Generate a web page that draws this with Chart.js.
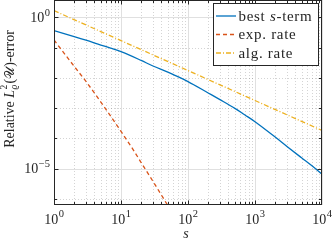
<!DOCTYPE html>
<html>
<head>
<meta charset="utf-8">
<script src="https://cdn.jsdelivr.net/npm/chart.js@4.4.1/dist/chart.umd.min.js"></script>
<style>
  html, body { margin: 0; padding: 0; background: #fff; }
  canvas { display: block; }
</style>
</head>
<body>
<canvas id="errChart" width="332" height="243"></canvas>
<script>
// values (s on x, relative error on y)
const sBest = [1, 2, 3, 5, 7, 10, 20, 30, 50, 70, 100, 200, 300, 500, 700, 1000, 2000, 3000, 5000, 7000, 10000];
const errBest = [0.363, 0.232, 0.176, 0.121, 0.0955, 0.0730, 0.0375, 0.0246, 0.0155, 0.011, 0.0075,
  3.16e-3, 1.9e-3, 9.8e-4, 6.0e-4, 3.55e-4, 1.1e-4, 5.4e-5, 2.24e-5, 1.26e-5, 6.6e-6];

const sExp = [1, 2, 3, 5, 7, 10, 15, 20, 30, 50];
const errExp = [0.178, 0.024, 7.6e-3, 1.58e-3, 5.4e-4, 1.7e-4, 4.4e-5, 1.58e-5, 3.8e-6, 6.0e-7];

const sAlg = [1, 10, 100, 1000, 10000];
const errAlg = [1.66, 0.17, 0.0174, 1.78e-3, 1.82e-4];

const seriesLabels = ['best $s$-term', 'exp. rate', 'alg. rate'];

const xTickExps = [0, 1, 2, 3, 4];
const yTickExps = [0, -5];
const yMinorExps = [-1, -2, -3, -4, -6];

const serif = '"Liberation Serif", "DejaVu Serif", serif';
const axisColor = '#262626';

function toPoints(xs, ys) {
  return xs.map((x, i) => ({ x: x, y: ys[i] }));
}

// "10" with a raised exponent, like MATLAB's log tick labels
function powLabel(ctx, exp, x, y, align) {
  const sup = String(exp).replace('-', '\u2212');
  ctx.font = '14px ' + serif;
  const wb = ctx.measureText('10').width;
  ctx.font = '10.5px ' + serif;
  const ws = ctx.measureText(sup).width;
  const total = wb + 0.5 + ws;
  const x0 = align === 'center' ? x - total / 2 : x - total;
  ctx.textAlign = 'left';
  ctx.textBaseline = 'alphabetic';
  ctx.font = '14px ' + serif;
  ctx.fillText('10', x0, y);
  ctx.font = '10.5px ' + serif;
  ctx.fillText(sup, x0 + wb + 0.5, y - 6.3);
}

// text with $...$ parts set in italic
function richText(ctx, str, x, y, size) {
  const parts = str.split('$');
  parts.forEach((p, i) => {
    ctx.font = (i % 2 ? 'italic ' : '') + size + 'px ' + serif;
    ctx.fillText(p, x, y);
    x += ctx.measureText(p).width;
  });
}

function drawYTitle(ctx) {
  const pieces = [
    ['Relative ', '14px ', 0],
    ['L', 'italic 14px ', 0],
    ['(', '14px ', 6.5],
    ['\uD835\uDCB0', '13px ', 0],
    [')', '14px ', 0],
    ['-error', '14px ', 0]
  ];
  let total = 0;
  pieces.forEach(p => { ctx.font = p[1] + serif; total += p[2] + ctx.measureText(p[0]).width; });
  ctx.save();
  ctx.translate(13.5, 89 + total / 2);
  ctx.rotate(-Math.PI / 2);
  ctx.fillStyle = axisColor;
  ctx.textAlign = 'left';
  ctx.textBaseline = 'alphabetic';
  let x = 0;
  pieces.forEach(p => {
    x += p[2];
    ctx.font = p[1] + serif;
    ctx.fillText(p[0], x, 0);
    x += ctx.measureText(p[0]).width;
    if (p[0] === 'L') {
      ctx.font = '9.5px ' + serif;
      ctx.fillText('2', x + 0.3, -6.5);
      ctx.font = 'italic 9.5px ' + serif;
      ctx.fillText('\u03F1', x + 0.3, 3.5);
    }
  });
  ctx.restore();
}

const matlabAxes = {
  id: 'matlabAxes',
  beforeDatasetsDraw(chart) {
    const ctx = chart.ctx, a = chart.chartArea;
    const xs = chart.scales.x, ys = chart.scales.y;
    ctx.save();
    ctx.lineWidth = 1;
    // minor grid, dotted
    ctx.strokeStyle = 'rgba(38,38,38,0.2)';
    ctx.setLineDash([1, 2]);
    ctx.beginPath();
    for (let d = 0; d < 4; d++) {
      for (let m = 2; m <= 9; m++) {
        const px = Math.round(xs.getPixelForValue(m * Math.pow(10, d))) + 0.5;
        ctx.moveTo(px, a.top); ctx.lineTo(px, a.bottom);
      }
    }
    yMinorExps.forEach(e => {
      const py = Math.round(ys.getPixelForValue(Math.pow(10, e))) + 0.5;
      ctx.moveTo(a.left, py); ctx.lineTo(a.right, py);
    });
    ctx.stroke();
    // major grid, solid
    ctx.setLineDash([]);
    ctx.strokeStyle = '#e0e0e0';
    ctx.beginPath();
    xTickExps.forEach(e => {
      const px = Math.round(xs.getPixelForValue(Math.pow(10, e))) + 0.5;
      ctx.moveTo(px, a.top); ctx.lineTo(px, a.bottom);
    });
    yTickExps.forEach(e => {
      const py = Math.round(ys.getPixelForValue(Math.pow(10, e))) + 0.5;
      ctx.moveTo(a.left, py); ctx.lineTo(a.right, py);
    });
    ctx.stroke();
    ctx.restore();
  },
  afterDatasetsDraw(chart) {
    const ctx = chart.ctx, a = chart.chartArea;
    const xs = chart.scales.x, ys = chart.scales.y;
    const L = Math.round(a.left) + 0.5, R = Math.round(a.right) - 0.5;
    const T = Math.round(a.top) + 0.5, B = Math.round(a.bottom) - 0.5;
    ctx.save();
    ctx.strokeStyle = axisColor;
    ctx.fillStyle = axisColor;
    ctx.lineWidth = 1;

    // inward tick marks on all four sides
    ctx.beginPath();
    for (let d = 0; d < 4; d++) {
      for (let m = 1; m <= 9; m++) {
        const px = Math.round(xs.getPixelForValue(m * Math.pow(10, d))) + 0.5;
        const len = m === 1 ? 4 : 2.5;
        ctx.moveTo(px, B); ctx.lineTo(px, B - len);
        ctx.moveTo(px, T); ctx.lineTo(px, T + len);
      }
    }
    yTickExps.concat(yMinorExps).forEach(e => {
      const py = Math.round(ys.getPixelForValue(Math.pow(10, e))) + 0.5;
      const len = yTickExps.includes(e) ? 4 : 2.5;
      ctx.moveTo(L, py); ctx.lineTo(L + len, py);
      ctx.moveTo(R, py); ctx.lineTo(R - len, py);
    });
    ctx.stroke();
    ctx.strokeRect(L, T, R - L, B - T);

    // tick labels
    xTickExps.forEach(e => powLabel(ctx, e, xs.getPixelForValue(Math.pow(10, e)), B + 19, 'center'));
    yTickExps.forEach(e => powLabel(ctx, e, L - 4.5, ys.getPixelForValue(Math.pow(10, e)) + 4.6, 'right'));

    // axis titles
    ctx.font = 'italic 14px ' + serif;
    ctx.textAlign = 'center';
    ctx.fillText('s', 186, 238);
    drawYTitle(ctx);

    // legend
    const bx = 213.5, by = 3.5, bw = 105, bh = 62;
    ctx.fillStyle = '#fff';
    ctx.fillRect(bx, by, bw, bh);
    ctx.strokeRect(bx, by, bw, bh);
    ctx.textAlign = 'left';
    ctx.textBaseline = 'alphabetic';
    ctx.letterSpacing = '0.7px';
    chart.data.datasets.forEach((ds, i) => {
      const ry = 16 + i * 18.5;
      ctx.strokeStyle = ds.borderColor;
      ctx.lineWidth = ds.borderWidth;
      ctx.setLineDash(ds.borderDash || []);
      ctx.beginPath();
      ctx.moveTo(216, ry); ctx.lineTo(236, ry);
      ctx.stroke();
      ctx.setLineDash([]);
      ctx.fillStyle = axisColor;
      richText(ctx, seriesLabels[i], 238.5, ry + 4.5, 15);
    });
    ctx.restore();
  }
};

new Chart(document.getElementById('errChart'), {
  type: 'line',
  data: {
    datasets: [
      { label: 'best s-term', data: toPoints(sBest, errBest), borderColor: '#0072BD', borderWidth: 1.3, cubicInterpolationMode: 'monotone' },
      { label: 'exp. rate', data: toPoints(sExp, errExp), borderColor: '#D95319', borderWidth: 1.3, borderDash: [4, 3], cubicInterpolationMode: 'monotone' },
      { label: 'alg. rate', data: toPoints(sAlg, errAlg), borderColor: '#EDB120', borderWidth: 1.3, borderDash: [5, 2, 1, 2] }
    ]
  },
  options: {
    responsive: false,
    animation: false,
    devicePixelRatio: 1,
    layout: { padding: { left: 54, right: 10, top: 0, bottom: 38 } },
    elements: { point: { radius: 0 } },
    plugins: { legend: { display: false }, tooltip: { enabled: false } },
    scales: {
      x: { type: 'logarithmic', min: 1, max: 1e4, display: false },
      y: { type: 'logarithmic', min: Math.pow(10, -6.203), max: Math.pow(10, 0.572), display: false }
    }
  },
  plugins: [matlabAxes]
});
</script>
</body>
</html>
